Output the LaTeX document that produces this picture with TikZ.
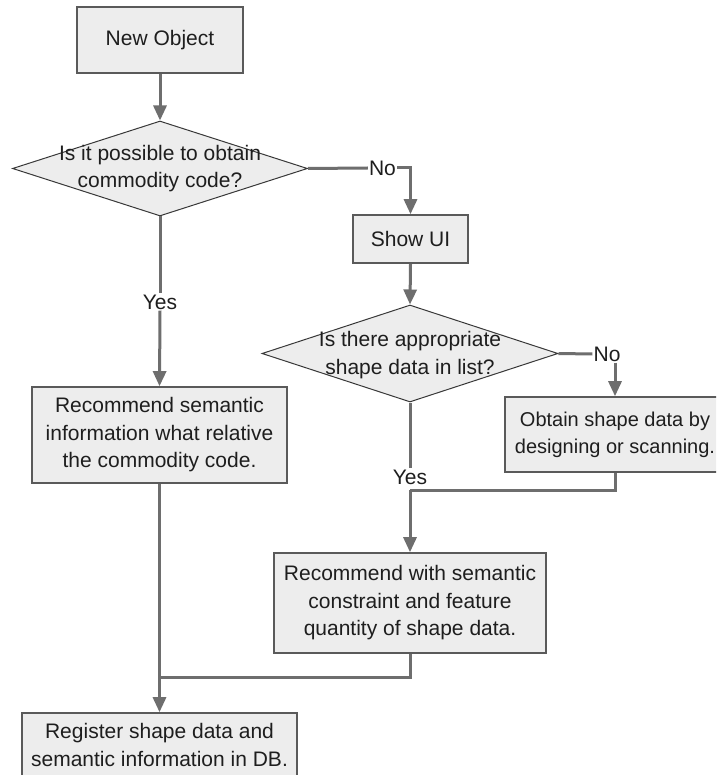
\documentclass[tikz,border=0pt]{standalone}
\usepackage{fontspec}
\setmainfont{Liberation Sans}
\usetikzlibrary{arrows.meta,shapes.geometric}
\definecolor{boxfill}{HTML}{EDEDED}
\definecolor{boxline}{HTML}{5A5A5A}
\definecolor{connc}{HTML}{6E6E6E}
\definecolor{txtc}{HTML}{1E1E1E}
\begin{document}
\begin{tikzpicture}[x=1pt,y=-1pt,
  font=\fontsize{21pt}{27.5pt}\selectfont, text=txtc,
  procbox/.style={draw=boxline, line width=1.6pt, fill=boxfill, align=center, inner sep=0pt},
  decbox/.style={diamond, draw=black!78, line width=1pt, fill=boxfill, inner sep=0pt},
  dectext/.style={align=center, inner sep=0pt},
  lbl/.style={fill=white, inner sep=1pt},
  cline/.style={draw=connc, line width=3pt},
  carrow/.style={cline, -{Triangle[width=13pt,length=15pt]}}
  ]
\clip (0,0) rectangle (716,775);
\fill[white] (0,0) rectangle (716,775);

% nodes
\node[procbox, minimum width=166pt, minimum height=66pt] (new) at (160,40) {New Object};
\node[decbox, minimum width=295pt, minimum height=95pt] (d1) at (160,168.5) {};
\node[dectext] (d1t) at (d1) {Is it possible to obtain\\commodity code?};
\node[procbox, minimum width=115pt, minimum height=48pt] (show) at (410.5,239) {Show UI};
\node[decbox, minimum width=296pt, minimum height=97pt] (d2) at (410,353.5) {};
\node[dectext] (d2t) at (410,355) {Is there appropriate\\shape data in list?};
\node[procbox, minimum width=220pt, minimum height=75pt, font=\fontsize{20pt}{27pt}\selectfont] (obtain) at (615,434.5) {Obtain shape data by\\designing or scanning.};
\node[procbox, minimum width=255pt, minimum height=96pt] (rec1) at (159.5,435) {Recommend semantic\\information what relative\\the commodity code.};
\node[procbox, minimum width=272pt, minimum height=100pt] (rec2) at (410,603) {Recommend with semantic\\constraint and feature\\quantity of shape data.};
\node[procbox, minimum width=275pt, minimum height=64pt] (reg) at (159.5,745) {Register shape data and\\semantic information in DB.};

% labels
\node[lbl] (no1) at (382.5,168) {No};
\node[lbl] (no2) at (607,354) {No};
\node[lbl] (yes1) at (160,302) {Yes};
\node[lbl] (yes2) at (410,477) {Yes};

\coordinate (j2) at (410,490);
\coordinate (j3) at (160,677);

% connectors
\draw[carrow] (new.south) -- (d1.north);
\draw[cline] (d1.east) -- (no1.west);
\draw[carrow] (no1.east) -| (show.north);
\draw[carrow] (show.south) -- (d2.north);
\draw[cline] (d2.east) -- (no2.west);
\draw[carrow] (no2.south -| obtain.north) -- (obtain.north);
\draw[cline] (d1.south) -- (yes1.north);
\draw[carrow] (yes1.south) -- (rec1.north);
\draw[cline] (d2.south) -- (yes2.north);
\draw[cline] (obtain.south) |- (j2);
\draw[carrow] (j2) -- (rec2.north);
\draw[cline] (rec2.south) |- (j3);
\draw[carrow] (rec1.south) -- (reg.north);
\end{tikzpicture}
\end{document}
